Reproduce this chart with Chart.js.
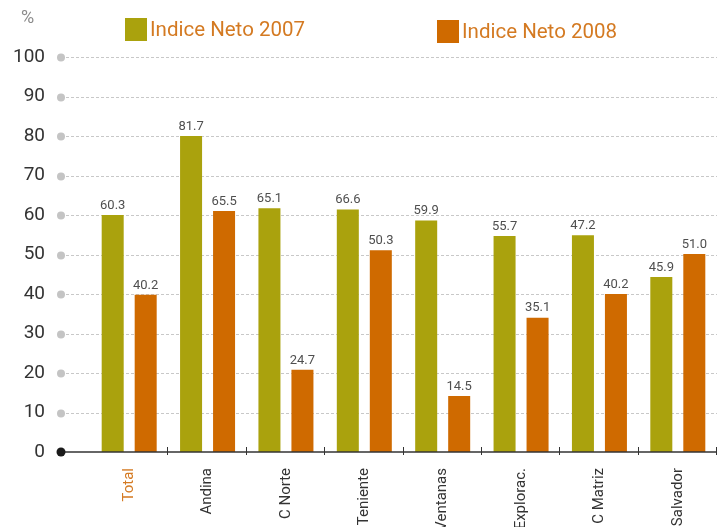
<!DOCTYPE html>
<html>
<head>
<meta charset="utf-8">
<script src="https://cdn.jsdelivr.net/npm/chart.js@4/dist/chart.umd.min.js"></script>
<style>
  html, body { margin: 0; padding: 0; background: #fff; }
  #wrap { position: relative; width: 717px; height: 527px; font-family: Roboto, "DejaVu Sans", sans-serif; }
  #c { position: absolute; left: 0; top: 0; }
  .pct { position: absolute; left: 21px; top: 6px; font-size: 18px; color: #8a8a8a; }
  .leg { position: absolute; top: 18px; font-size: 20.5px; color: #d47a22; line-height: 23px; white-space: nowrap; }
  .leg i { display: inline-block; width: 22px; height: 23px; vertical-align: top; margin-right: 3px; }
</style>
</head>
<body>
<div id="wrap">
  <canvas id="c" width="717" height="527"></canvas>
  <div class="pct">%</div>
  <div id="legend"></div>
</div>
<script>
  const categories = ["Total", "Andina", "C Norte", "Teniente", "Ventanas", "Explorac.", "C Matriz", "Salvador"];
  const seriesNames = ["Indice Neto 2007", "Indice Neto 2008"];
  // bar heights as drawn in the picture
  const neto2007 = [60.0, 80.0, 61.7, 61.4, 58.6, 54.7, 54.9, 44.3];
  const neto2008 = [39.8, 61.0, 20.8, 51.1, 14.2, 34.0, 40.0, 50.1];
  // numbers printed above the bars
  const labels2007 = ["60.3", "81.7", "65.1", "66.6", "59.9", "55.7", "47.2", "45.9"];
  const labels2008 = ["40.2", "65.5", "24.7", "50.3", "14.5", "35.1", "40.2", "51.0"];
  const yTicks = [0, 10, 20, 30, 40, 50, 60, 70, 80, 90, 100];

  const colors = ["#aaa20d", "#cf6a00"];
  const FONT = "Roboto, 'DejaVu Sans', sans-serif";
  const AXIS_X0 = 61;

  // legend (html, placed like the original)
  const legendPos = [125, 437];
  const legendEl = document.getElementById("legend");
  seriesNames.forEach((name, i) => {
    const d = document.createElement("div");
    d.className = "leg";
    d.style.left = legendPos[i] + "px";
    if (i === 1) d.style.top = "20px";
    d.innerHTML = `<i style="background:${colors[i]}"></i>${name}`;
    legendEl.appendChild(d);
  });

  const decor = {
    id: "decor",
    beforeDatasetsDraw(chart) {
      const ctx = chart.ctx;
      const y = chart.scales.y;
      const right = chart.chartArea.right;
      ctx.save();
      yTicks.forEach(v => {
        const py = Math.round(y.getPixelForValue(v)) + 0.5;
        if (v !== 0) {
          ctx.strokeStyle = "#c8c8c8";
          ctx.lineWidth = 1;
          ctx.setLineDash([3, 2]);
          ctx.beginPath();
          ctx.moveTo(AXIS_X0 + 5, py);
          ctx.lineTo(right, py);
          ctx.stroke();
          ctx.setLineDash([]);
          ctx.fillStyle = "#c4c4c4";
          ctx.beginPath();
          ctx.arc(AXIS_X0, py, 4, 0, Math.PI * 2);
          ctx.fill();
        }
      });
      ctx.restore();
    },
    afterDatasetsDraw(chart) {
      const ctx = chart.ctx;
      const y = chart.scales.y, x = chart.scales.x;
      const right = chart.chartArea.right;
      const py = Math.round(y.getPixelForValue(0));
      ctx.save();
      // zero axis line
      ctx.strokeStyle = "#333";
      ctx.lineWidth = 1.5;
      ctx.beginPath();
      ctx.moveTo(AXIS_X0, py);
      ctx.lineTo(right, py);
      ctx.stroke();
      ctx.fillStyle = "#1a1a1a";
      ctx.beginPath();
      ctx.arc(AXIS_X0, py, 4.5, 0, Math.PI * 2);
      ctx.fill();
      // category tick marks
      const step = x.getPixelForValue(1) - x.getPixelForValue(0);
      ctx.lineWidth = 1;
      for (let i = 1; i <= categories.length; i++) {
        const px = Math.round(x.getPixelForValue(i - 1) + step / 2) - 0.5;
        ctx.beginPath();
        ctx.moveTo(px, py - 5);
        ctx.lineTo(px, py + 3);
        ctx.stroke();
      }
      // value labels
      ctx.fillStyle = "#4f4f4f";
      ctx.font = "13px " + FONT;
      ctx.textAlign = "center";
      ctx.textBaseline = "bottom";
      const txt = [labels2007, labels2008];
      chart.data.datasets.forEach((ds, di) => {
        chart.getDatasetMeta(di).data.forEach((bar, i) => {
          ctx.fillText(txt[di][i], bar.x, bar.y - 3);
        });
      });
      ctx.restore();
    }
  };

  new Chart(document.getElementById("c"), {
    type: "bar",
    data: {
      labels: categories,
      datasets: [
        { label: seriesNames[0], data: neto2007, backgroundColor: colors[0] },
        { label: seriesNames[1], data: neto2008, backgroundColor: colors[1] }
      ]
    },
    options: {
      responsive: false,
      animation: false,
      devicePixelRatio: 1,
      categoryPercentage: 0.842,
      barPercentage: 0.667,
      layout: { padding: { top: 57, right: 0, left: 0, bottom: 0 } },
      plugins: { legend: { display: false }, tooltip: { enabled: false } },
      scales: {
        x: {
          grid: { display: false },
          border: { display: false },
          ticks: {
            minRotation: 90, maxRotation: 90, autoSkip: false, padding: 8,
            font: { family: FONT, size: 15 },
            color: (c) => c.index === 0 ? "#d47a22" : "#333"
          },
          afterFit: (s) => { s.height = 75; }
        },
        y: {
          min: 0, max: 100,
          afterBuildTicks: (s) => { s.ticks = yTicks.map(v => ({ value: v })); },
          grid: { display: false },
          border: { display: false },
          ticks: { padding: 37, font: { family: FONT, size: 19 }, color: "#333" },
          afterFit: (s) => { s.width = 90; }
        }
      }
    },
    plugins: [decor]
  });
</script>
</body>
</html>
